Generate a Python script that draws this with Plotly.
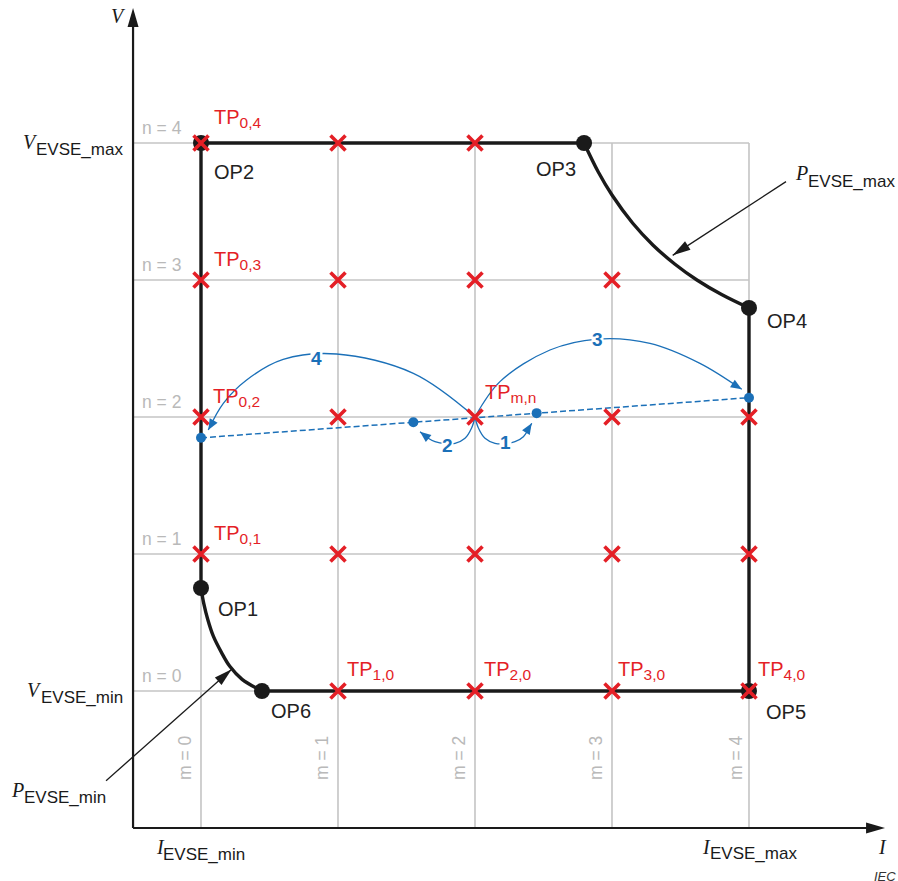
import math
import plotly.graph_objects as go

# ---------------- data (grid units: m along I, n along V) ----------------
m_vals = [0, 1, 2, 3, 4]
n_vals = [0, 1, 2, 3, 4]
m_labels = ["m = 0", "m = 1", "m = 2", "m = 3", "m = 4"]
n_labels = ["n = 0", "n = 1", "n = 2", "n = 3", "n = 4"]

# axis extents (origin and arrow tips)
axis_origin = (-0.496, -1.0)
axis_x_end = 4.993
axis_y_end = 4.985

# operating points
op_names = ["OP1", "OP2", "OP3", "OP4", "OP5", "OP6"]
op_m = [0.0, 0.0, 2.796, 4.0, 4.0, 0.445]
op_n = [0.752, 4.0, 4.0, 2.796, 0.0, 0.0]

# constant power curves
pmax_m = [2.796, 2.9, 3.0, 3.15, 3.3, 3.46, 3.62, 3.8, 4.0]
pmax_n = [4.0, 3.788, 3.62, 3.416, 3.254, 3.115, 3.0, 2.894, 2.796]
pmin_m = [0.0, 0.02, 0.05, 0.09, 0.15, 0.21, 0.30, 0.445]
pmin_n = [0.752, 0.64, 0.52, 0.40, 0.28, 0.18, 0.085, 0.0]

# test points (red crosses)
tp_m = [0, 1, 2,  0, 1, 2, 3,  0, 1, 2, 3, 4,  0, 1, 2, 3, 4,  1, 2, 3, 4]
tp_n = [4, 4, 4,  3, 3, 3, 3,  2, 2, 2, 2, 2,  1, 1, 1, 1, 1,  0, 0, 0, 0]
tp_labels = ["0,4", "0,3", "0,2", "0,1", "1,0", "2,0", "3,0", "4,0", "m,n"]
tp_label_m = [0, 0, 0, 0, 1, 2, 3, 4, 2]
tp_label_n = [4, 3, 2, 1, 0, 0, 0, 0, 2]

# blue search line and points
line_m = [0.0, 4.0]
line_n = [1.848, 2.141]
dot_m = [0.0, 1.55, 2.45, 4.0]
dot_n = [1.848, 1.962, 2.028, 2.141]

# blue jump arcs
arc1_m = [2.0, 2.024, 2.073, 2.146, 2.22, 2.292, 2.353, 2.414]
arc1_n = [2.0, 1.922, 1.845, 1.808, 1.805, 1.820, 1.856, 1.954]
arc2_m = [2.0, 1.976, 1.927, 1.854, 1.78, 1.708, 1.659, 1.599]
arc2_n = [2.0, 1.922, 1.845, 1.808, 1.805, 1.820, 1.845, 1.893]
arc3_m = [2.0, 2.182, 2.547, 2.891, 3.277, 3.642, 3.947]
arc3_n = [2.0, 2.258, 2.489, 2.569, 2.538, 2.392, 2.202]
arc4_m = [2.0, 1.55, 0.99, 0.60, 0.333, 0.163, 0.053]
arc4_n = [2.0, 2.319, 2.46, 2.42, 2.27, 2.10, 1.905]
arc_labels = ["1", "2", "3", "4"]

# pointer arrows for power limits (tail -> tip)
pmax_ptr_m = [4.27, 3.443]
pmax_ptr_n = [3.718, 3.18]
pmin_ptr_m = [-0.693, 0.224]
pmin_ptr_n = [-0.655, 0.158]

# ---------------- geometry helpers ----------------
W, H = 898, 881
S = 137.0          # px per grid unit
X0, Y0 = 201, 691  # pixel of (m=0, n=0)


def px2d(px, py):
    return (px - X0) / S, (Y0 - py) / S


RED = "#e41f26"
BLUE = "#1b70b8"
BLACK = "#1a1a1a"
GRIDC = "#c4c4c4"
GRAYTXT = "#b9b9b9"
SANS = "Liberation Sans, Arial, sans-serif"
SERIF = "Liberation Serif, Times New Roman, serif"

fig = go.Figure()

# grid lines
gx, gy = [], []
for m in m_vals:
    gx += [m, m, None]
    gy += [axis_origin[1], n_vals[-1], None]
for n in n_vals:
    gx += [axis_origin[0], m_vals[-1], None]
    gy += [n, n, None]
fig.add_trace(go.Scatter(x=gx, y=gy, mode="lines", line=dict(color=GRIDC, width=1.6), hoverinfo="skip"))

# axes
fig.add_trace(go.Scatter(x=[axis_origin[0], axis_origin[0], None, axis_origin[0], axis_x_end - 0.05],
                         y=[axis_y_end - 0.05, axis_origin[1], None, axis_origin[1], axis_origin[1]],
                         mode="lines", line=dict(color=BLACK, width=2.2), hoverinfo="skip"))

# boundary
fig.add_trace(go.Scatter(x=[op_m[0], op_m[1], op_m[2]], y=[op_n[0], op_n[1], op_n[2]], mode="lines",
                         line=dict(color=BLACK, width=3.4), hoverinfo="skip"))
fig.add_trace(go.Scatter(x=[op_m[3], op_m[4], op_m[5]], y=[op_n[3], op_n[4], op_n[5]], mode="lines",
                         line=dict(color=BLACK, width=3.4), hoverinfo="skip"))
fig.add_trace(go.Scatter(x=pmax_m, y=pmax_n, mode="lines", line=dict(color=BLACK, width=3.4, shape="spline"),
                         hoverinfo="skip"))
fig.add_trace(go.Scatter(x=pmin_m, y=pmin_n, mode="lines", line=dict(color=BLACK, width=3.4, shape="spline"),
                         hoverinfo="skip"))

# pointer lines
for pm, pn in [(pmax_ptr_m, pmax_ptr_n), (pmin_ptr_m, pmin_ptr_n)]:
    fig.add_trace(go.Scatter(x=pm, y=pn, mode="lines", line=dict(color=BLACK, width=1.3), hoverinfo="skip"))

# blue dashed line
fig.add_trace(go.Scatter(x=line_m, y=line_n, mode="lines", line=dict(color=BLUE, width=1.5, dash="6px,3px"),
                         hoverinfo="skip"))
# arcs
for am, an in [(arc1_m, arc1_n), (arc2_m, arc2_n), (arc3_m, arc3_n), (arc4_m, arc4_n)]:
    fig.add_trace(go.Scatter(x=am, y=an, mode="lines", line=dict(color=BLUE, width=1.3, shape="spline"),
                             hoverinfo="skip"))

# operating point markers
fig.add_trace(go.Scatter(x=op_m, y=op_n, mode="markers", marker=dict(color=BLACK, size=16), hoverinfo="skip"))
# blue dots
fig.add_trace(go.Scatter(x=dot_m, y=dot_n, mode="markers", marker=dict(color=BLUE, size=10), hoverinfo="skip"))
# red crosses
fig.add_trace(go.Scatter(x=tp_m, y=tp_n, mode="markers",
                         marker=dict(symbol="x-thin", size=15, line=dict(color=RED, width=3.6)),
                         hoverinfo="skip"))

# ---------------- arrowheads as shapes ----------------
shapes = []


def arrowhead(tip, prev, L, Wd, color):
    dx, dy = tip[0] - prev[0], tip[1] - prev[1]
    d = math.hypot(dx, dy)
    ux, uy = dx / d, dy / d
    L /= S
    Wd /= S
    bx, by = tip[0] - ux * L, tip[1] - uy * L
    ox, oy = -uy * Wd / 2, ux * Wd / 2
    path = f"M{tip[0]},{tip[1]} L{bx + ox},{by + oy} L{bx - ox},{by - oy} Z"
    shapes.append(dict(type="path", path=path, xref="x", yref="y", fillcolor=color,
                       line=dict(width=0), layer="above"))


arrowhead((axis_origin[0], axis_y_end), (axis_origin[0], 0), 19, 11, BLACK)
arrowhead((axis_x_end, axis_origin[1]), (0, axis_origin[1]), 19, 11, BLACK)
arrowhead((pmax_ptr_m[1], pmax_ptr_n[1]), (pmax_ptr_m[0], pmax_ptr_n[0]), 18, 10, BLACK)
arrowhead((pmin_ptr_m[1], pmin_ptr_n[1]), (pmin_ptr_m[0], pmin_ptr_n[0]), 18, 10, BLACK)
for am, an in [(arc1_m, arc1_n), (arc2_m, arc2_n), (arc3_m, arc3_n), (arc4_m, arc4_n)]:
    arrowhead((am[-1], an[-1]), (am[-2], an[-2]), 11, 9, BLUE)

# ---------------- text ----------------
anns = []


def txt(s, px, py, size=20, color=BLACK, family=SANS, xanchor="center", yanchor="middle", angle=0, bg=None):
    m, n = px2d(px, py)
    d = dict(x=m, y=n, xref="x", yref="y", text=s, showarrow=False,
             font=dict(size=size, color=color, family=family),
             xanchor=xanchor, yanchor=yanchor, textangle=angle, borderpad=0)
    if bg:
        d["bgcolor"] = bg
    anns.append(d)


def sym_label(sym, sub, px_sym, py_sym, px_sub, py_sub):
    txt(f"<i>{sym}</i>", px_sym, py_sym, size=20, family=SERIF)
    txt(sub, px_sub, py_sub, size=17, xanchor="left")


txt("<i>V</i>", 118, 16, size=20, family=SERIF)
txt("<i>I</i>", 882.5, 846.5, size=20, family=SERIF)
sym_label("V", "EVSE_max", 30, 141.5, 35, 149.5)
sym_label("V", "EVSE_min", 34, 690, 39.5, 697.5)
sym_label("I", "EVSE_min", 160, 847, 162, 854)
sym_label("I", "EVSE_max", 706, 846.5, 709, 853)
sym_label("P", "EVSE_max", 801, 173, 807, 181)
sym_label("P", "EVSE_min", 17.5, 790, 23, 797.5)
txt("<i>IEC</i>", 873, 876, size=13, color="#333", xanchor="left")

# operating point labels
op_lab_px = [(238, 609), (234, 172), (556, 169), (787, 321), (786, 712), (291, 711)]
for name, (px, py) in zip(op_names, op_lab_px):
    txt(name, px, py, size=20, color="#222")

# grid labels
for n, lab in zip(n_vals, n_labels):
    txt(lab, 141, Y0 - S * n - 15.5, size=17.5, color=GRAYTXT, xanchor="left")
for m, lab in zip(m_vals, m_labels):
    off = 13 if m == 4 else 16
    txt(lab, X0 + S * m - off, 758, size=17.5, color=GRAYTXT, angle=-90)

# test point labels
tp_off = {"0,4": (12, -25), "0,3": (12, -20), "0,2": (11, -20), "0,1": (12, -20),
          "1,0": (8, -21), "2,0": (8, -21), "3,0": (5, -21), "4,0": (8, -21), "m,n": (9, -24)}
for lab, m, n in zip(tp_labels, tp_label_m, tp_label_n):
    dx, dy = tp_off[lab]
    txt(f"TP<sub><span style='font-size:15.5px'>{lab}</span></sub>", X0 + S * m + dx, Y0 - S * n + dy,
        size=20, color=RED, xanchor="left")

# arc number labels
arc_lab_px = [(505, 442), (447, 445), (597, 339), (316, 358)]
for lab, (px, py) in zip(arc_labels, arc_lab_px):
    txt(f"<b>{lab}</b>", px, py, size=19, color=BLUE, bg="white")

fig.update_layout(
    width=W, height=H,
    margin=dict(l=0, r=0, t=0, b=0),
    paper_bgcolor="white", plot_bgcolor="white",
    showlegend=False,
    xaxis=dict(range=[-X0 / S, (W - X0) / S], visible=False, fixedrange=True),
    yaxis=dict(range=[(Y0 - H) / S, Y0 / S], visible=False, fixedrange=True),
    shapes=shapes,
    annotations=anns,
)

fig.write_html("out.html", config={"displayModeBar": False},
               post_script="document.body.style.margin='0';document.body.style.padding='0';")
